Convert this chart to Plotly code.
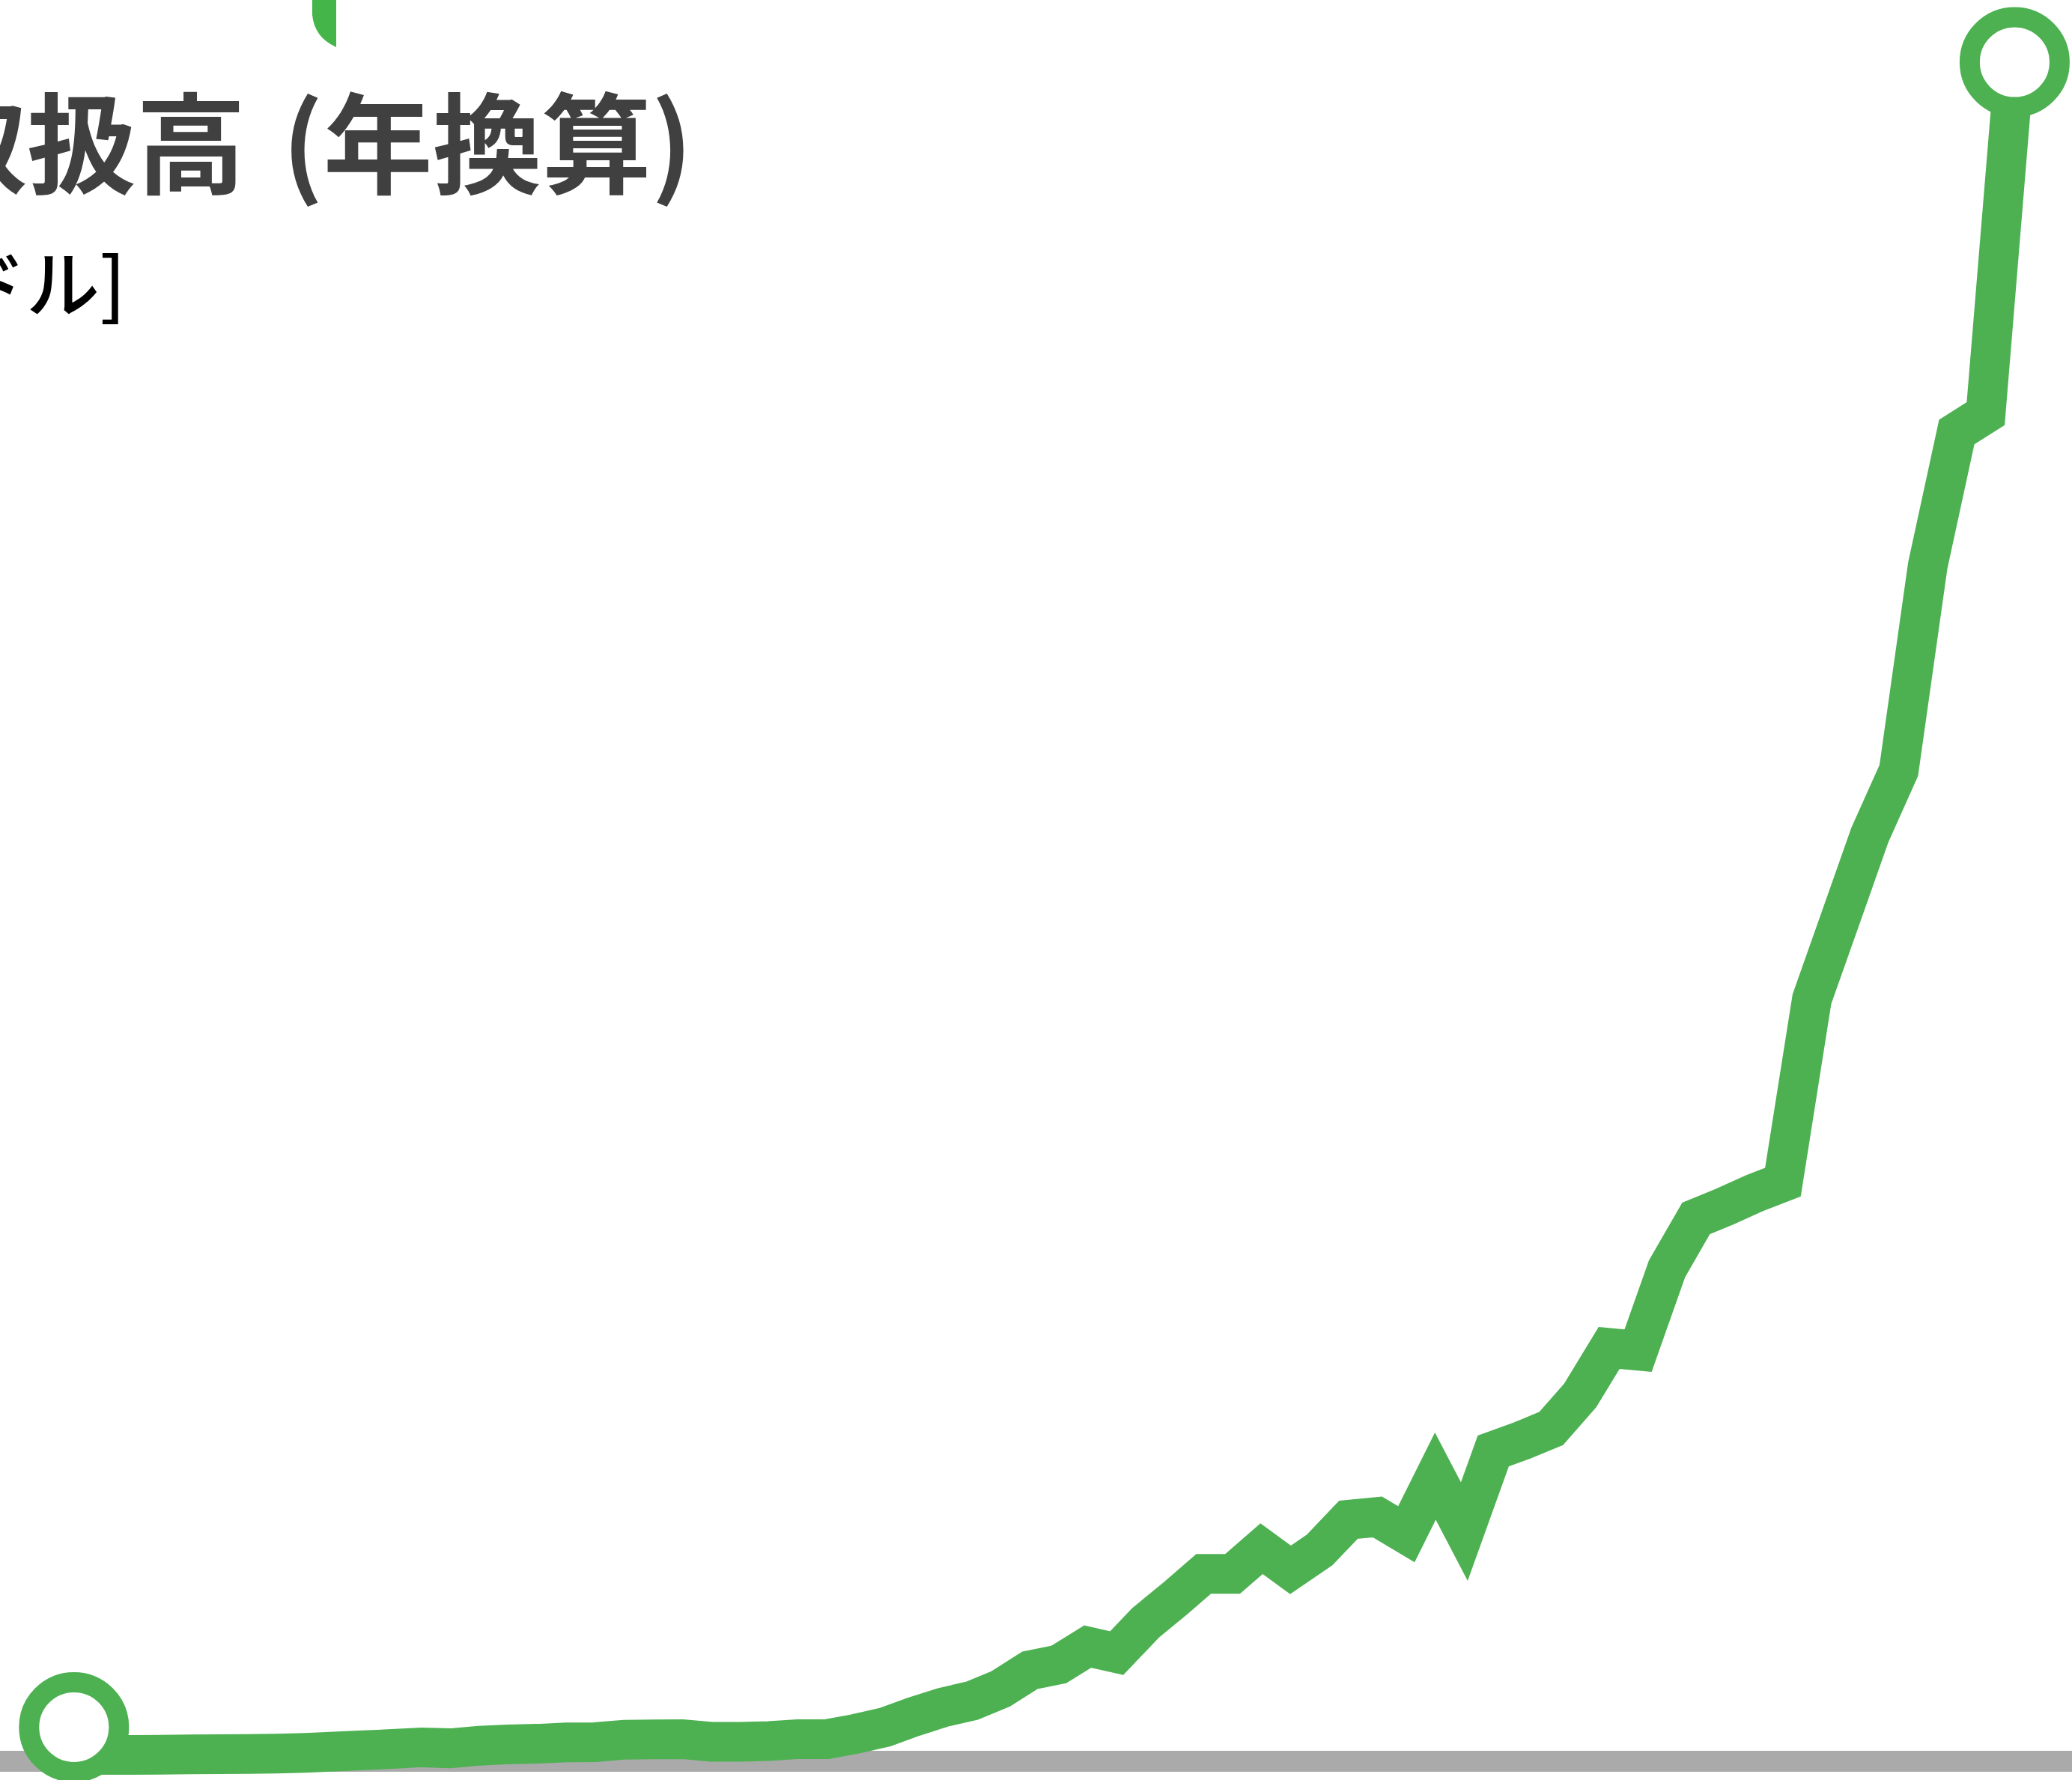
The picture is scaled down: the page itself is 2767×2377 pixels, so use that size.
import plotly.graph_objects as go

# 月次の取扱高（年換算, 億ドル）— 画像から読み取った概算値
months = [f"{2019 + (m // 12)}-{m % 12 + 1:02d}" for m in range(68)]
volume = [
    22.8, 4.2, 4.2, 4.4, 4.6, 4.7, 4.9, 5.1, 5.6, 6.5,
    7.4, 8.2, 9.3, 8.7, 10.4, 11.3, 11.7, 12.6, 12.8, 14.4,
    14.6, 14.8, 13.0, 13.0, 13.5, 14.8, 14.8, 18.4, 22.8, 29.8,
    36.0, 40.4, 48.4, 60.7, 64.6, 76.6, 72.2, 92.5, 108.4, 125.1,
    125.1, 141.9, 127.8, 141.0, 161.3, 163.1, 151.6, 190.4, 153.4, 207.2,
    214.2, 222.2, 244.2, 276.0, 274.2, 328.9, 362.5, 370.4, 379.2, 386.7,
    508.9, 563.6, 618.4, 661.6, 798.4, 887.5, 899.8, 1134.5,
]

title_text = "暗号資産取扱高\u2004(年換算)"
unit_text = "[億ドル]"

GREEN = "#4db152"
GRAY = "#a9aaa9"
W, H = 2767, 2377

fig = go.Figure()

# main line
fig.add_trace(go.Scatter(
    x=list(range(len(months))),
    y=volume,
    mode="lines",
    line=dict(color=GREEN, width=53, simplify=False),
    customdata=months,
    hovertemplate="%{customdata}<br>%{y:,.1f}<extra></extra>",
    cliponaxis=False,
))

# start / end markers
fig.add_trace(go.Scatter(
    x=[0, len(months) - 1],
    y=[volume[0], volume[-1]],
    mode="markers",
    marker=dict(size=120, color="white", line=dict(color=GREEN, width=27)),
    hoverinfo="skip",
    cliponaxis=False,
))

fig.update_layout(
    width=W, height=H,
    margin=dict(l=0, r=0, t=0, b=0),
    paper_bgcolor="white",
    plot_bgcolor="white",
    showlegend=False,
    font=dict(family="Noto Sans CJK JP"),
)

fig.update_xaxes(
    range=[-2.554, 68.98],
    visible=False, showgrid=False, zeroline=False,
)
fig.update_yaxes(
    range=[-12.5, 1176],
    showgrid=False, showticklabels=False, ticks="",
    zeroline=True, zerolinecolor=GRAY, zerolinewidth=28,
)

# title and unit (cut off at the left edge like the source)
fig.add_annotation(
    text=f"<b>{title_text}</b>",
    xref="paper", yref="paper",
    x=927 / W, y=1 - 184 / H,
    xanchor="right", yanchor="middle",
    showarrow=False,
    font=dict(size=146, color="#404040", family="Noto Sans CJK JP"),
)
fig.add_annotation(
    text=unit_text,
    xref="paper", yref="paper",
    x=170 / W, y=1 - 373 / H,
    xanchor="right", yanchor="middle",
    showarrow=False,
    font=dict(size=98, color="black", family="Noto Sans CJK JP", weight=500),
)

# green tab cut off at the top
fig.add_shape(
    type="path",
    xref="paper", yref="paper",
    path=f"M {417/W},1 L {449/W},1 L {449/W},{1-63/H} Q {420/W},{1-50/H} {417/W},{1-20/H} Z",
    fillcolor="#44b549", line=dict(width=0),
)

fig.write_html(
    "out.html",
    config={"displayModeBar": False},
    post_script=(
        "document.body.style.margin='0px';"
        "document.querySelectorAll('.scatterlayer .js-line').forEach(function(p){"
        "p.style.strokeLinejoin='miter';p.style.strokeMiterlimit='6';});"
    ),
)
